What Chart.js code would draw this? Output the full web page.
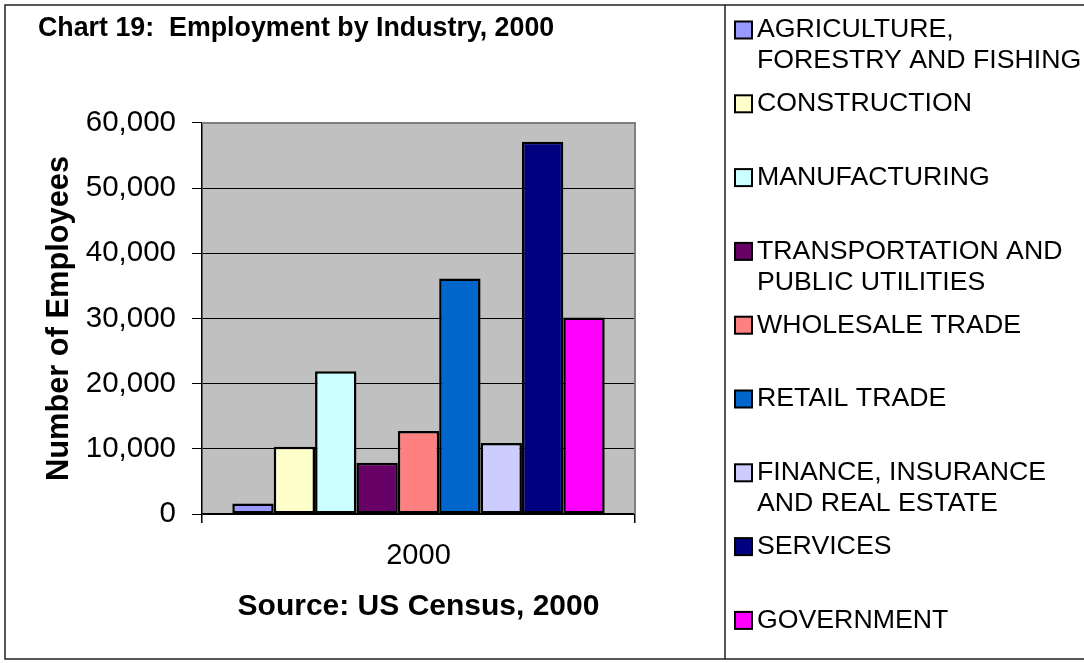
<!DOCTYPE html>
<html>
<head>
<meta charset="utf-8">
<script src="https://cdn.jsdelivr.net/npm/chart.js@4/dist/chart.umd.min.js"></script>
<style>
  body { margin: 0; background: #fff; }
  #wrap { width: 1084px; height: 663px; }
</style>
</head>
<body>
<div id="wrap"><canvas id="chart" width="1084" height="663"></canvas></div>
<script>
const FONT = '"Liberation Sans", Arial, sans-serif';

// data
const categories = ['2000'];
const industries = [
    ['AGRICULTURE,', 'FORESTRY AND FISHING'],
    ['CONSTRUCTION'],
    ['MANUFACTURING'],
    ['TRANSPORTATION AND', 'PUBLIC UTILITIES'],
    ['WHOLESALE TRADE'],
    ['RETAIL TRADE'],
    ['FINANCE, INSURANCE', 'AND REAL ESTATE'],
    ['SERVICES'],
    ['GOVERNMENT']
];
const employees = [1600, 10300, 21900, 7850, 12750, 36150, 10900, 57100, 30150];
const barColors = ['#9999FF', '#FFFFCC', '#CCFFFF', '#660066', '#FF8080', '#0066CC', '#CCCCFF', '#000080', '#FF00FF'];
const yTickValues = [0, 10000, 20000, 30000, 40000, 50000, 60000];

// gray plot background + border
const plotBox = {
    id: 'plotBox',
    beforeDraw(chart) {
        let a = chart.chartArea;
        let ctx = chart.ctx;
        ctx.save();
        ctx.fillStyle = '#C0C0C0';
        ctx.fillRect(a.left, a.top, a.right - a.left, a.bottom - a.top);
        ctx.restore();
    },
    beforeDatasetsDraw(chart) {
        let a = chart.chartArea;
        let ctx = chart.ctx;
        ctx.save();
        ctx.strokeStyle = '#808080';
        ctx.lineWidth = 2;
        ctx.beginPath();
        ctx.moveTo(a.left, a.top);
        ctx.lineTo(a.right, a.top);
        ctx.lineTo(a.right, a.bottom);
        ctx.stroke();
        ctx.restore();
    }
};

// outer frame + legend in the right cell
const frameAndLegend = {
    id: 'frameAndLegend',
    afterDraw(chart) {
        let ctx = chart.ctx;
        ctx.save();
        ctx.strokeStyle = '#222';
        ctx.lineWidth = 1.5;
        ctx.beginPath();
        ctx.moveTo(1084, 5); ctx.lineTo(5, 5); ctx.lineTo(5, 659); ctx.lineTo(1084, 659);
        ctx.moveTo(725, 5); ctx.lineTo(725, 659);
        ctx.stroke();

        ctx.font = '26.7px ' + FONT;
        ctx.textBaseline = 'middle';
        ctx.textAlign = 'left';
        chart.data.datasets.forEach((ds, i) => {
            let y = 30 + i * 73.8;
            ctx.fillStyle = ds.backgroundColor;
            ctx.fillRect(735, y - 8.5, 17, 17);
            ctx.strokeStyle = '#000';
            ctx.lineWidth = 2;
            ctx.strokeRect(735, y - 8.5, 17, 17);
            ctx.fillStyle = '#000';
            industries[i].forEach((line, j) => {
                ctx.fillText(line, 757, y + j * 31);
            });
        });
        ctx.restore();
    }
};

let datasets = industries.map((lines, i) => ({
    label: lines.join(' '),
    data: [employees[i]],
    backgroundColor: barColors[i],
    borderColor: '#000',
    borderWidth: 2.5,
    borderSkipped: false,
    categoryPercentage: 0.86,
    barPercentage: 1
}));

new Chart(document.getElementById('chart'), {
    type: 'bar',
    data: { labels: categories, datasets: datasets },
    plugins: [plotBox, frameAndLegend],
    options: {
        responsive: false,
        animation: false,
        layout: { padding: { left: 38, top: 8, right: 449, bottom: 38 } },
        plugins: {
            legend: { display: false },
            tooltip: { enabled: false },
            title: {
                display: true,
                text: 'Chart 19:  Employment by Industry, 2000',
                align: 'start',
                color: '#000',
                font: { family: FONT, size: 26.8, weight: 'bold' },
                padding: { top: 4.4, bottom: 78.4 }
            }
        },
        scales: {
            x: {
                afterFit(scale) { scale.height = 111; },
                grid: { display: true, offset: true, drawOnChartArea: false, color: '#000', tickLength: 9, lineWidth: 1.5 },
                border: { display: true, color: '#000', width: 1.5 },
                ticks: { color: '#000', padding: 16, font: { family: FONT, size: 29 } },
                title: {
                    display: true,
                    text: 'Source: US Census, 2000',
                    color: '#000',
                    font: { family: FONT, size: 30, weight: 'bold' },
                    padding: { top: 0, bottom: 0 }
                }
            },
            y: {
                min: 0,
                max: 60000,
                afterFit(scale) { scale.width = 164; },
                afterBuildTicks(scale) { scale.ticks = yTickValues.map(v => ({ value: v })); },
                grid: { color: '#000', lineWidth: 1, tickLength: 10, tickColor: '#000' },
                border: { display: true, color: '#000', width: 1.5 },
                ticks: {
                    color: '#000',
                    padding: 16,
                    font: { family: FONT, size: 29.5 },
                    callback: v => v.toLocaleString('en-US')
                },
                title: {
                    display: true,
                    text: 'Number of Employees',
                    color: '#000',
                    font: { family: FONT, size: 30.8, weight: 'bold' },
                    padding: { top: 3, bottom: 0 }
                }
            }
        }
    }
});
</script>
</body>
</html>
